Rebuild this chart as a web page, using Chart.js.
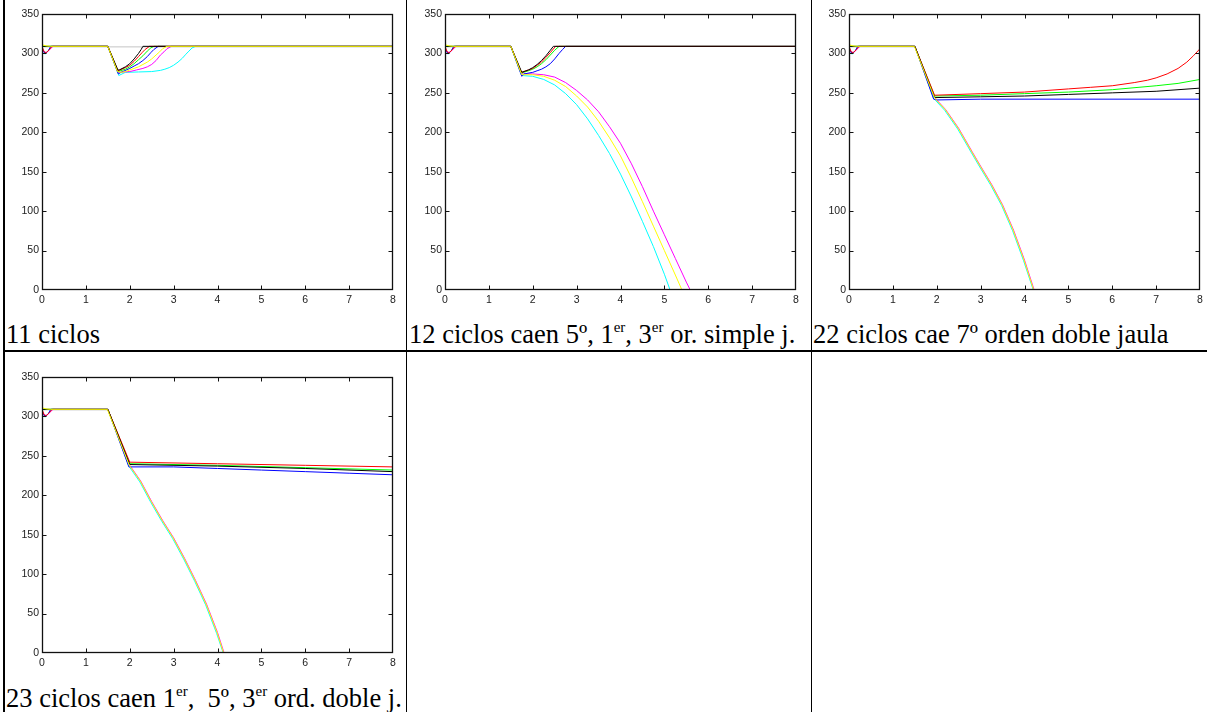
<!DOCTYPE html>
<html>
<head>
<meta charset="utf-8">
<script src="https://cdn.jsdelivr.net/npm/chart.js@4.4.0/dist/chart.umd.min.js"></script>
<style>
  html, body { margin:0; padding:0; background:#fff; }
  body { width:1207px; height:712px; position:relative; overflow:hidden; }
  canvas { position:absolute; }
  .ln { position:absolute; background:#000; z-index:5; }
  .cap { position:absolute; font-family:"Liberation Serif","Times New Roman",serif; font-size:26.5px; line-height:27px; color:#000; white-space:nowrap; z-index:6; }
  .cap sup { font-size:15px; line-height:0; vertical-align:11px; }
</style>
</head>
<body>
<canvas id="c1" width="400" height="312" style="left:0px;top:0px"></canvas>
<canvas id="c2" width="400" height="312" style="left:403px;top:0px"></canvas>
<canvas id="c3" width="400" height="312" style="left:807px;top:0px"></canvas>
<canvas id="c4" width="400" height="312" style="left:0px;top:363px"></canvas>

<div class="ln" style="left:3px;top:0;width:2px;height:712px"></div>
<div class="ln" style="left:406px;top:0;width:1px;height:712px"></div>
<div class="ln" style="left:811px;top:0;width:1px;height:712px"></div>
<div class="ln" style="left:3px;top:350px;width:1204px;height:2px"></div>

<div class="cap" style="left:6px;top:321px">11 ciclos</div>
<div class="cap" style="left:409px;top:321px">12 ciclos caen 5º, 1<sup>er</sup>, 3<sup>er</sup> or. simple j.</div>
<div class="cap" style="left:813px;top:321px">22 ciclos cae 7º orden doble jaula</div>
<div class="cap" style="left:6px;top:685px">23 ciclos caen 1<sup>er</sup>,&nbsp; 5º, 3<sup>er</sup> ord. doble j.</div>

<script>
// ---- axis ticks ----
const xTickValues = [0,1,2,3,4,5,6,7,8];
const yTickValues = [0,50,100,150,200,250,300,350];

// ---- Chart 1: 11 ciclos ----
const c1Yellow  = [[0,311],[0.1,309.5],[0.2,309],[1.5,309],[1.72,277],[1.8,276],[1.9,277],[2.0,279],[2.1,281],[2.2,283],[2.3,286],[2.4,289],[2.5,293],[2.6,298],[2.68,302],[2.75,306],[2.85,309],[8,309]];
const c1Black   = [[0,309],[0.2,309],[1.5,309],[1.73,279],[1.76,279],[1.9,283],[2.0,287],[2.1,293],[2.2,300],[2.26,305],[2.3,309],[8,309]];
const c1Red     = [[0,309],[0.05,302],[0.1,301],[0.17,305],[0.23,309],[1.5,309],[1.73,278],[1.9,282],[2.0,285],[2.1,290],[2.2,296],[2.28,301],[2.35,305],[2.45,309],[8,309]];
const c1Green   = [[0,309],[0.2,309],[1.5,309],[1.73,277],[1.9,280],[2.0,283],[2.1,287],[2.2,292],[2.3,297],[2.4,303],[2.48,307],[2.55,309],[8,309]];
const c1Blue    = [[0,306],[0.07,300],[0.14,303],[0.2,309],[1.5,309],[1.74,274],[1.8,276],[2.0,281],[2.1,284],[2.2,287],[2.3,291],[2.4,296],[2.48,301],[2.55,305],[2.65,309],[8,309]];
const c1Magenta = [[0,307],[0.06,300],[0.12,302],[0.2,306],[0.25,309],[1.5,309],[1.73,276],[2.0,277],[2.15,279],[2.3,281],[2.4,283],[2.5,286],[2.6,291],[2.7,298],[2.78,302],[2.85,306],[2.95,309],[8,309]];
const c1Cyan    = [[0,305],[0.07,299],[0.15,304],[0.2,309],[1.5,309],[1.75,272],[1.9,276],[2.2,276.5],[2.5,277],[2.7,278.5],[2.8,280],[2.9,282],[3.0,285],[3.1,289],[3.2,294],[3.28,299],[3.35,303],[3.42,307],[3.5,309],[8,309]];
const c1Gray    = [[0,308.3],[8,308.3]];

// ---- Chart 2: 12 ciclos ----
const c2Yellow  = [[0,311],[0.1,309.5],[0.2,309],[1.5,309],[1.75,273],[2.0,273],[2.25,271],[2.5,266],[2.75,258],[3.0,246],[3.25,232],[3.5,214],[3.75,193],[4.0,170],[4.25,142],[4.5,112],[4.75,81],[5.0,50],[5.25,19],[5.4,0]];
const c2Black   = [[0,309],[0.2,309],[1.5,309],[1.75,276],[1.9,279],[2.0,282],[2.1,286],[2.2,291],[2.3,297],[2.4,304],[2.47,309],[8,309]];
const c2Red     = [[0,309],[0.05,302],[0.1,301],[0.17,305],[0.23,309],[1.5,309],[1.74,276],[1.9,279],[2.0,281],[2.1,285],[2.2,289],[2.3,295],[2.4,301],[2.52,309],[8,309]];
const c2Green   = [[0,309],[0.2,309],[1.5,309],[1.74,275],[1.9,278],[2.0,280],[2.1,283],[2.2,287],[2.3,292],[2.4,298],[2.5,304],[2.6,309],[8,309]];
const c2Blue    = [[0,306],[0.07,300],[0.14,303],[0.2,309],[1.5,309],[1.75,271],[1.8,274],[2.0,276],[2.1,278],[2.2,280],[2.3,283],[2.4,287],[2.5,293],[2.6,300],[2.68,305],[2.75,309],[8,309]];
const c2Magenta = [[0,307],[0.06,300],[0.12,302],[0.2,306],[0.25,309],[1.5,309],[1.75,274],[2.0,274],[2.25,273],[2.5,270],[2.75,263],[3.0,253],[3.25,241],[3.5,226],[3.75,207],[4.0,186],[4.25,160],[4.5,131],[4.75,100],[5.0,70],[5.25,40],[5.5,10],[5.59,0]];
const c2Cyan    = [[0,305],[0.07,299],[0.15,304],[0.2,309],[1.5,309],[1.75,272],[2.0,271],[2.25,267],[2.5,260],[2.75,249],[3.0,235],[3.25,217],[3.5,196],[3.75,173],[4.0,147],[4.25,118],[4.5,87],[4.75,55],[5.0,20],[5.13,0]];
const c2Gray    = [[0,308.3],[1.5,308.3]];

// ---- Chart 3: 22 ciclos ----
const c3Yellow  = [[0,311],[0.1,309.5],[0.2,309],[1.49,309],[1.94,245],[1.99,241],[2.19,229],[2.49,205],[2.79,176],[2.99,157],[3.24,134],[3.49,108],[3.74,76],[3.99,38],[4.21,0]];
const c3Black   = [[0,309],[0.2,309],[1.5,309],[1.95,244],[3,245],[4,246],[5,248],[6,250],[7,252],[8,256]];
const c3Red     = [[0,309],[0.05,302],[0.1,301],[0.17,305],[0.23,309],[1.5,309],[1.95,247],[3,249],[4,251],[5,255],[5.5,257],[6,259],[6.5,263],[6.8,266],[7,269],[7.25,274],[7.5,281],[7.7,289],[7.85,297],[8,306]];
const c3Green   = [[0,309],[0.2,309],[1.5,309],[1.95,246],[3,247],[4,249],[5,251],[6,254],[7,259],[7.5,262],[8,267]];
const c3Blue    = [[0,306],[0.07,300],[0.14,303],[0.2,309],[1.5,309],[1.93,242],[2.0,241],[3,242],[8,242]];
const c3Magenta = [[0,307],[0.06,300],[0.12,302],[0.2,306],[0.25,309],[1.5,309],[1.95,245],[2.0,241],[2.2,229],[2.5,205],[2.8,176],[3.0,157],[3.25,134],[3.5,108],[3.75,76],[4.0,38],[4.22,0]];
const c3Cyan    = [[0,305],[0.07,299],[0.15,304],[0.2,309],[1.5,309],[1.93,243],[1.98,240],[2.18,228],[2.48,204],[2.78,175],[2.98,156],[3.23,133],[3.48,107],[3.73,75],[3.98,37],[4.2,0]];
const c3Gray    = [[0,308.3],[1.5,308.3]];

// ---- Chart 4: 23 ciclos ----
const c4Yellow  = [[0,311],[0.1,309.5],[0.2,309],[1.49,309],[1.99,238],[2.24,218],[2.49,192],[2.74,168],[2.99,146],[3.24,120],[3.49,92],[3.74,62],[3.99,26],[4.14,0]];
const c4Black   = [[0,309],[0.2,309],[1.5,309],[2.0,239],[4,237],[6,234],[8,230]];
const c4Red     = [[0,309],[0.05,302],[0.1,301],[0.17,305],[0.23,309],[1.5,309],[2.0,242],[4,240],[6,238],[8,236]];
const c4Green   = [[0,309],[0.2,309],[1.5,309],[2.0,240],[4,238],[6,235],[8,232]];
const c4Blue    = [[0,306],[0.07,300],[0.14,303],[0.2,309],[1.5,309],[1.98,236],[3,236],[4,234],[5,232],[6,230],[7,228],[8,226]];
const c4Magenta = [[0,307],[0.06,300],[0.12,302],[0.2,306],[0.25,309],[1.5,309],[2.0,238],[2.25,218],[2.5,192],[2.75,168],[3.0,146],[3.25,120],[3.5,92],[3.75,62],[4.0,26],[4.15,0]];
const c4Cyan    = [[0,305],[0.07,299],[0.15,304],[0.2,309],[1.5,309],[1.98,237],[2.23,217],[2.48,191],[2.73,167],[2.98,145],[3.23,119],[3.48,91],[3.73,61],[3.98,25],[4.13,0]];
const c4Gray    = [[0,308.3],[1.5,308.3]];

const COLORS = { yellow:'#ffff00', black:'#000000', red:'#ff0000', green:'#00ff00', blue:'#0000ff', magenta:'#ff00ff', cyan:'#00ffff', gray:'#c4c4c4' };

const boxTicks = {
  id: 'boxTicks',
  afterDatasetsDraw(chart) {
    const { ctx, chartArea: a, scales: { x, y } } = chart;
    ctx.save();
    ctx.strokeStyle = '#111';
    ctx.lineWidth = 1.3;
    const L = Math.round(a.left) + 0.5, R = Math.round(a.right) - 0.5;
    const T = Math.round(a.top) + 0.5, B = Math.round(a.bottom) - 0.5;
    ctx.strokeRect(L, T, R - L, B - T);
    ctx.beginPath();
    ctx.lineWidth = 1;
    x.ticks.forEach(t => {
      const px = Math.round(x.getPixelForValue(t.value)) + 0.5;
      if (t.value === x.min || t.value === x.max) return;
      ctx.moveTo(px, B); ctx.lineTo(px, B - 4);
      ctx.moveTo(px, T); ctx.lineTo(px, T + 4);
    });
    y.ticks.forEach(t => {
      const py = Math.round(y.getPixelForValue(t.value)) + 0.5;
      if (t.value === y.min || t.value === y.max) return;
      ctx.moveTo(L, py); ctx.lineTo(L + 4, py);
      ctx.moveTo(R, py); ctx.lineTo(R - 4, py);
    });
    ctx.stroke();
    ctx.restore();
  }
};

function toPts(arr) { return arr.map(p => ({ x: p[0], y: p[1] })); }

function makeChart(id, series) {
  const order = ['yellow','black','red','green','blue','magenta','cyan','gray'];
  const datasets = order.map(k => ({
    data: toPts(series[k]),
    borderColor: COLORS[k],
    borderWidth: 1,
    pointRadius: 0,
    fill: false,
    tension: 0
  }));
  new Chart(document.getElementById(id), {
    type: 'line',
    data: { datasets },
    options: {
      responsive: false,
      animation: false,
      devicePixelRatio: 1,
      layout: { padding: { left: 5, top: 14, right: 7, bottom: 2 } },
      plugins: { legend: { display: false }, tooltip: { enabled: false } },
      scales: {
        x: {
          type: 'linear', min: 0, max: 8,
          afterBuildTicks(s) { s.ticks = xTickValues.map(v => ({ value: v })); },
          afterFit(s) { s.height = 20; },
          grid: { display: false, drawTicks: false },
          border: { display: false },
          ticks: { padding: 4, maxRotation: 0, color: '#222', font: { family: 'Liberation Sans', size: 10.5 } }
        },
        y: {
          type: 'linear', min: 0, max: 350,
          afterBuildTicks(s) { s.ticks = yTickValues.map(v => ({ value: v })); },
          afterFit(s) { s.width = 37; },
          grid: { display: false, drawTicks: false },
          border: { display: false },
          ticks: { padding: 3, color: '#222', font: { family: 'Liberation Sans', size: 10.5 } }
        }
      }
    },
    plugins: [boxTicks]
  });
}

makeChart('c1', { yellow:c1Yellow, black:c1Black, red:c1Red, green:c1Green, blue:c1Blue, magenta:c1Magenta, cyan:c1Cyan, gray:c1Gray });
makeChart('c2', { yellow:c2Yellow, black:c2Black, red:c2Red, green:c2Green, blue:c2Blue, magenta:c2Magenta, cyan:c2Cyan, gray:c2Gray });
makeChart('c3', { yellow:c3Yellow, black:c3Black, red:c3Red, green:c3Green, blue:c3Blue, magenta:c3Magenta, cyan:c3Cyan, gray:c3Gray });
makeChart('c4', { yellow:c4Yellow, black:c4Black, red:c4Red, green:c4Green, blue:c4Blue, magenta:c4Magenta, cyan:c4Cyan, gray:c4Gray });
</script>
</body>
</html>
